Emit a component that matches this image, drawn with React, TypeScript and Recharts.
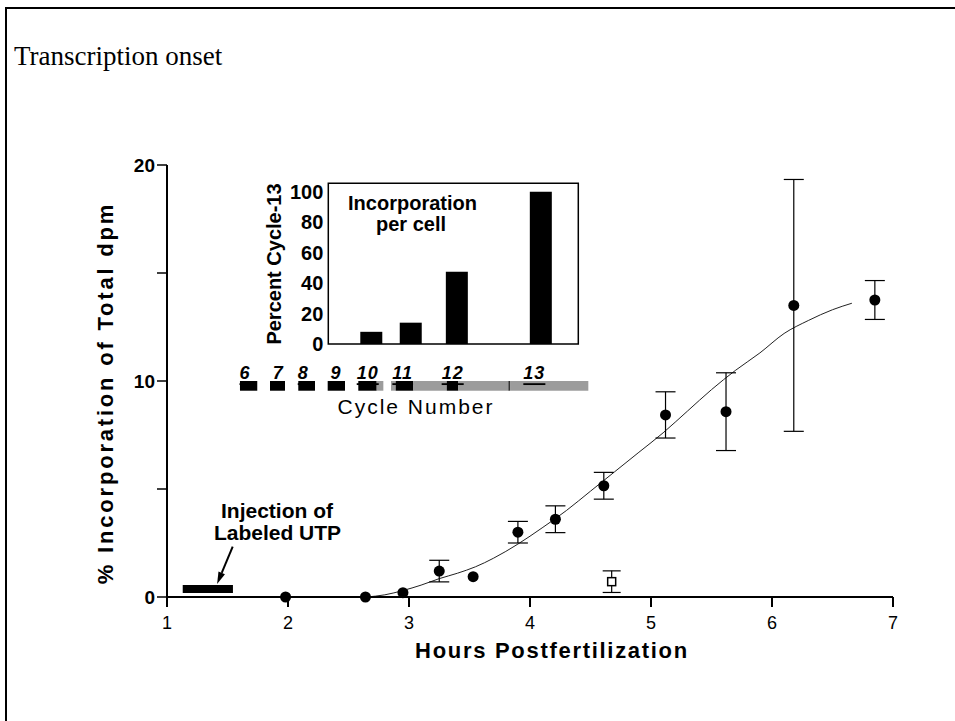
import React from "react"
import {
  ComposedChart,
  XAxis,
  YAxis,
  Line,
  Scatter,
  Bar,
  ErrorBar,
  ReferenceArea,
  ReferenceLine,
} from "recharts"

const SANS = '"Liberation Sans", Arial, Helvetica, sans-serif'
const SERIF = '"Liberation Serif", "Times New Roman", serif'

// main panel: % incorporation vs hours postfertilization
const HOUR_TICKS = [1, 2, 3, 4, 5, 6, 7]
const DPM_TICKS = [0, 5, 10, 15, 20]

const MEAN_HOURS = [1.98, 2.64, 2.95, 3.25, 3.53, 3.9, 4.21, 4.61, 5.12, 5.62, 6.18, 6.85]
const MEAN_DPM = [0, 0, 0.2, 1.2, 0.94, 3.0, 3.6, 5.15, 8.43, 8.58, 13.5, 13.75]
const MEAN_ERR = [0, 0, 0, 0.5, 0, 0.5, 0.62, 0.62, 1.07, 1.8, 5.83, 0.9]

const CONTROL_HOURS = [4.675]
const CONTROL_DPM = [0.71]
const CONTROL_ERR = [0.5]

const FIT_HOURS = [2.65, 2.8, 2.95, 3.1, 3.25, 3.4, 3.55, 3.7, 3.9, 4.1, 4.3, 4.5, 4.7, 4.9, 5.1, 5.3, 5.5, 5.7, 5.9, 6.1, 6.3, 6.5, 6.66]
const FIT_DPM = [0.0, 0.1, 0.3, 0.55, 0.85, 1.1, 1.4, 1.8, 2.45, 3.2, 4.0, 4.9, 5.8, 6.7, 7.6, 8.6, 9.6, 10.5, 11.3, 12.2, 12.8, 13.3, 13.6]

// injection marker
const INJECTION = { from: 1.13, to: 1.545, low: 0.19, high: 0.56 }
const ARROW_FROM = { x: 1.543, y: 2.33 }
const ARROW_TO = { x: 1.414, y: 0.6 }

// cycle timeline under the inset (hours)
const SEG_START = [1.603, 1.851, 2.085, 2.328, 2.581, 2.733, 2.851, 2.89, 3.036, 3.312, 3.408, 3.821, 3.835]
const SEG_END = [1.746, 1.975, 2.223, 2.471, 2.733, 2.788, 2.89, 3.036, 3.312, 3.408, 3.821, 3.835, 4.482]
const SEG_KIND = ["on", "on", "on", "on", "on", "off", "off", "on", "off", "on", "off", "mark", "off"]
const TIMELINE_LOW = 9.55
const TIMELINE_HIGH = 10.0

const CYCLE_NUMBERS = ["6", "7", "8", "9", "10", "11", "12", "13"]
const CYCLE_HOURS = [1.645, 1.92, 2.126, 2.397, 2.659, 2.948, 3.361, 4.036]
const CYCLE_LABEL_Y = 10.36

// inset: incorporation per cell
const INSET_HOURS = [2.686, 3.012, 3.393, 4.087]
const INSET_PCT = [8, 14, 47.5, 100]
const INSET_TICKS = [0, 20, 40, 60, 80, 100]
const INSET_X = [2.333, 4.399]
const INSET_TOP = 105.5

const means = MEAN_HOURS.map((h, i) => ({ h, dpm: MEAN_DPM[i], err: MEAN_ERR[i] }))
const controls = CONTROL_HOURS.map((h, i) => ({ h, dpm: CONTROL_DPM[i], err: CONTROL_ERR[i] }))
const fit = FIT_HOURS.map((h, i) => ({ h, dpm: FIT_DPM[i] }))
const cycles = CYCLE_HOURS.map((h, i) => ({ h, dpm: CYCLE_LABEL_Y, label: CYCLE_NUMBERS[i] }))
const insetBars = INSET_HOURS.map((h, i) => ({ h, pct: INSET_PCT[i] }))

const segColor = (k: string) => (k === "on" ? "#000" : k === "mark" ? "#333" : "#9c9c9c")

const Arrow = (p: any) => {
  const { x1, y1, x2, y2 } = p
  const a = Math.atan2(y2 - y1, x2 - x1)
  const len = 12
  const hw = 3.5
  const bx = x2 - len * Math.cos(a)
  const by = y2 - len * Math.sin(a)
  const nx = -Math.sin(a) * hw
  const ny = Math.cos(a) * hw
  return (
    <g>
      <line x1={x1} y1={y1} x2={bx} y2={by} stroke="#000" strokeWidth={2} />
      <polygon points={`${x2},${y2} ${bx + nx},${by + ny} ${bx - nx},${by - ny}`} fill="#000" />
    </g>
  )
}

const Dot = (p: any) => <circle cx={p.cx} cy={p.cy} r={5.5} fill="#000" />
const OpenSquare = (p: any) => (
  <rect x={p.cx - 4} y={p.cy - 4} width={8} height={8} fill="#fff" stroke="#000" strokeWidth={1.5} />
)
const CycleLabel = (p: any) => (
  <text
    x={p.cx}
    y={p.cy}
    textAnchor="middle"
    dominantBaseline="central"
    fontFamily={SANS}
    fontSize={18}
    fontWeight="bold"
    fontStyle="italic"
    textDecoration="underline"
    letterSpacing={1}
    fill="#000"
  >
    {p.payload.label}
  </text>
)

const Txt = ({
  x, y, children, size = 21, bold = true, rotate = false, spacing = 0,
}: {
  x: number; y: number; children: React.ReactNode; size?: number; bold?: boolean; rotate?: boolean; spacing?: number
}) => (
  <div
    style={{
      position: "absolute",
      left: x,
      top: y,
      transform: `translate(-50%, -50%)${rotate ? " rotate(-90deg)" : ""}`,
      fontFamily: SANS,
      fontSize: size,
      fontWeight: bold ? "bold" : "normal",
      letterSpacing: spacing,
      whiteSpace: "nowrap",
      color: "#000",
    }}
  >
    {children}
  </div>
)

export default function App() {
  return (
    <div style={{ position: "absolute", left: 0, top: 0, width: 955, height: 721, overflow: "hidden", background: "#fff" }}>
      <div style={{ position: "absolute", left: 5, top: 7, width: 1200, height: 1000, border: "2px solid #000" }} />
      <div style={{ position: "absolute", left: 14, top: 43, fontFamily: SERIF, fontSize: 27, lineHeight: "27px", color: "#000" }}>
        Transcription onset
      </div>

      <div style={{ position: "absolute", left: 0, top: 0 }}>
        <ComposedChart width={955} height={721} margin={{ top: 165, right: 62, bottom: 64, left: 107 }}>
          <XAxis
            type="number"
            dataKey="h"
            domain={[1, 7]}
            ticks={HOUR_TICKS}
            height={60}
            tickSize={10}
            tickMargin={9}
            axisLine={{ stroke: "#000", strokeWidth: 2 }}
            tickLine={{ stroke: "#000", strokeWidth: 2 }}
            tick={{ fill: "#000", fontSize: 18, fontFamily: SANS }}
          />
          <YAxis
            type="number"
            dataKey="dpm"
            domain={[0, 20]}
            ticks={DPM_TICKS}
            width={60}
            tickSize={10}
            axisLine={{ stroke: "#000", strokeWidth: 2 }}
            tickLine={{ stroke: "#000", strokeWidth: 1.5 }}
            tick={{ fill: "#000", fontSize: 19, fontWeight: "bold", fontFamily: SANS }}
            tickFormatter={(v: number) => (v % 10 === 0 ? String(v) : "")}
          />
          {SEG_START.map((s, i) => (
            <ReferenceArea
              key={i}
              x1={s}
              x2={SEG_END[i]}
              y1={TIMELINE_LOW}
              y2={TIMELINE_HIGH}
              fill={segColor(SEG_KIND[i])}
              fillOpacity={1}
              stroke="none"
            />
          ))}
          <ReferenceArea
            x1={INJECTION.from}
            x2={INJECTION.to}
            y1={INJECTION.low}
            y2={INJECTION.high}
            fill="#000"
            fillOpacity={1}
            stroke="none"
          />
          <ReferenceLine segment={[ARROW_FROM, ARROW_TO]} shape={Arrow} />
          <Line
            data={fit}
            dataKey="dpm"
            type="monotone"
            stroke="#222"
            strokeWidth={1}
            dot={false}
            activeDot={false}
            isAnimationActive={false}
          />
          <Scatter data={means} dataKey="dpm" shape={Dot} isAnimationActive={false}>
            <ErrorBar dataKey="err" direction="y" width={10} stroke="#000" strokeWidth={1.2} />
          </Scatter>
          <Scatter data={controls} dataKey="dpm" shape={OpenSquare} isAnimationActive={false}>
            <ErrorBar dataKey="err" direction="y" width={9} stroke="#000" strokeWidth={1.2} />
          </Scatter>
          <Scatter data={cycles} dataKey="dpm" shape={CycleLabel} isAnimationActive={false} />
        </ComposedChart>
      </div>

      <div style={{ position: "absolute", left: 230, top: 170 }}>
        <ComposedChart width={370} height={190} data={insetBars} margin={{ top: 13.3, right: 21.7, bottom: 16, left: 58.3 }}>
          <XAxis type="number" dataKey="h" domain={INSET_X} hide />
          <YAxis
            type="number"
            domain={[0, INSET_TOP]}
            ticks={INSET_TICKS}
            width={40}
            tickSize={0}
            tickMargin={5}
            axisLine={false}
            tickLine={false}
            tick={{ fill: "#000", fontSize: 20, fontWeight: "bold", fontFamily: SANS }}
          />
          <Bar dataKey="pct" fill="#000" barSize={22} isAnimationActive={false} />
          <ReferenceArea
            x1={INSET_X[0]}
            x2={INSET_X[1]}
            y1={0}
            y2={INSET_TOP}
            fill="none"
            stroke="#000"
            strokeWidth={1.5}
          />
        </ComposedChart>
      </div>

      <Txt x={412.5} y={203} size={20}>Incorporation</Txt>
      <Txt x={411} y={224} size={20}>per cell</Txt>
      <Txt x={274} y={264} size={20} rotate>Percent Cycle-13</Txt>
      <Txt x={416} y={407} size={21} bold={false} spacing={2}>Cycle Number</Txt>

      <Txt x={277} y={511}>Injection of</Txt>
      <Txt x={277.5} y={532.5}>Labeled UTP</Txt>

      <Txt x={106} y={393} size={22} rotate spacing={2.8}>% Incorporation of Total dpm</Txt>
      <Txt x={552} y={651} size={22} spacing={1.7}>Hours Postfertilization</Txt>
    </div>
  )
}
